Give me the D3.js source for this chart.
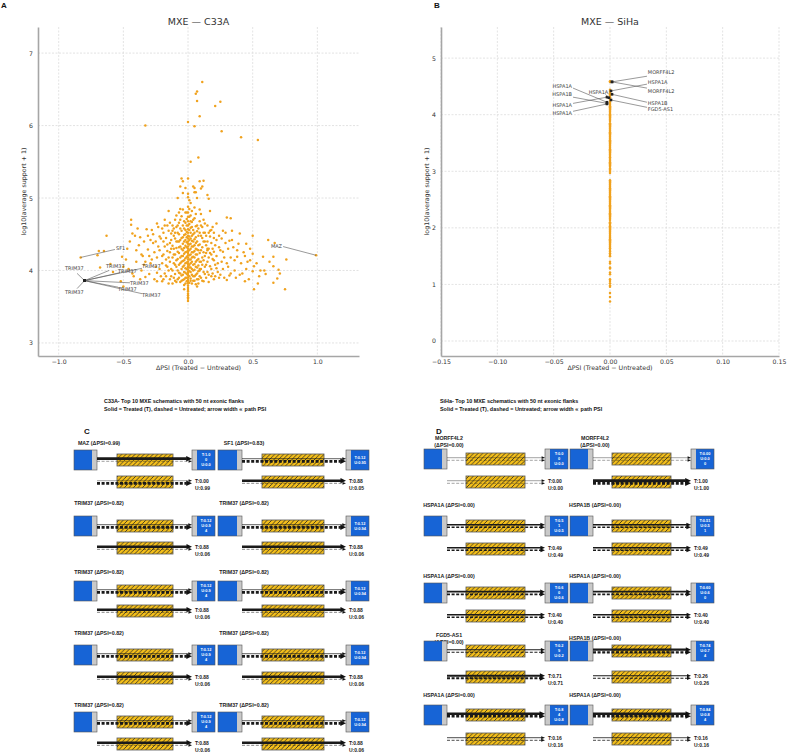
<!DOCTYPE html>
<html><head><meta charset="utf-8">
<script src="https://cdn.jsdelivr.net/npm/d3@7"></script>
<style>body{margin:0;background:#fff}svg{display:block}</style>
</head><body>
<svg id="fig" width="787" height="752"></svg>
<script>
// ---------------- DATA ----------------
const c33aXTicks = [-1.0, -0.5, 0.0, 0.5, 1.0];
const c33aYTicks = [3, 4, 5, 6, 7];
const sihaXTicks = [-0.15, -0.10, -0.05, 0.00, 0.05, 0.10, 0.15];
const sihaYTicks = [0, 1, 2, 3, 4, 5];

// C33A: [ΔPSI, log10(average support + 1)]
const c33aPoints = [
[0.11,6.60],[0.07,6.47],[0.06,6.44],[0.07,6.34],[0.21,6.27],[0.25,6.33],[0.09,6.13],[-0.33,6.00],[0.00,6.05],[0.05,5.99],
[0.26,5.92],[0.41,5.84],[0.54,5.80],[0.08,5.56],[0.02,5.50],[-0.05,5.27],[0.00,5.27],[-0.06,5.16],[0.04,5.16],[0.11,5.16],
[0.10,5.13],[-0.04,5.07],[0.00,5.06],[0.05,5.08],[0.06,5.08],[0.15,5.04],[-0.08,5.00],[0.00,5.01],[0.07,5.00],[0.16,4.99],
[-0.04,5.23],[0.09,5.23],[0.12,5.24],[-0.02,5.14],[0.05,5.14],[0.01,4.97],[0.02,4.93],[0.05,4.87],
[-0.83,4.18],[-0.63,4.48],[-0.69,4.27],[-0.65,4.27],[-0.70,4.21],[-0.80,3.86],[-0.68,4.04],[-0.60,4.09],[-0.58,3.98],[-0.52,3.85],
[-0.50,3.78],[-0.50,4.05],[-0.51,4.19],[-0.47,4.30],[-0.44,4.70],[-0.44,4.63],[-0.43,4.51],[-0.41,4.48],[-0.40,4.12],[-0.36,4.00],
[-0.33,3.91],[-0.32,4.57],[-0.28,4.56],[-0.24,4.65],[-0.22,4.47],[-0.27,4.38],[-0.31,4.29],[-0.35,4.20],[-0.28,4.15],[-0.24,3.97],
[-0.24,3.85],[-0.19,3.88],[-0.17,4.07],[-0.18,4.70],[-0.15,4.82],[-0.13,4.51],
[0.99,4.21],[0.62,4.42],[0.67,4.38],[0.76,4.15],[0.75,3.74],[0.69,3.89],[0.66,3.83],[0.51,3.74],[0.54,3.82],[0.59,4.00],
[0.56,4.00],[0.50,3.99],[0.51,4.06],[0.44,3.85],[0.58,4.19],[0.66,4.19],[0.66,4.06],[0.70,4.01],[0.50,4.48],[0.50,4.23],
[0.45,4.37],[0.40,4.51],[0.39,4.37],
[0.09,4.84],[0.17,4.82],[0.22,4.65],[0.30,4.73],[0.33,4.72],[0.27,4.55],[0.32,4.41],[0.35,4.32],[0.38,4.19],[0.22,4.03],
[0.25,3.94],[0.20,3.88],[0.12,3.85],[0.07,3.78],[-0.03,3.74],[0.09,4.00],[0.15,4.28],[0.20,4.14],[0.24,4.32],[0.32,3.93],
[0.37,3.90],[0.30,3.87],
[-0.46,4.02],[-0.42,3.92],[-0.38,4.35],[-0.37,4.46],[-0.34,4.08],[-0.30,3.95],[-0.29,4.42],[-0.26,4.25],[-0.25,4.05],[-0.23,4.33],
[-0.21,3.92],[-0.20,4.58],[-0.20,4.20],[-0.19,4.40],[-0.18,3.96],[-0.16,4.27],[-0.16,4.62],[-0.15,3.82],[-0.14,4.12],[-0.14,4.38],
[-0.12,4.00],[-0.12,4.55],[-0.11,4.22],[-0.11,3.90],[-0.10,4.44],[-0.10,4.70],
[0.10,4.62],[0.11,4.18],[0.12,4.40],[0.13,3.95],[0.13,4.52],[0.14,4.08],[0.15,4.30],[0.16,3.84],[0.17,4.47],[0.18,4.02],
[0.18,4.22],[0.19,4.60],[0.21,4.35],[0.23,3.98],[0.24,4.48],[0.26,4.12],[0.27,4.26],[0.28,3.90],[0.29,4.38],[0.31,4.05],
[0.33,4.18],[0.34,4.55],[0.36,4.00],[0.41,4.10],[0.42,3.96],[0.43,4.25],[0.46,4.12],[0.47,3.88],[0.48,4.30],[0.53,4.10],
[0.55,3.92],[0.60,3.95],[0.63,4.12],[0.71,3.96],
[-0.09,4.05],[-0.09,4.31],[-0.08,3.88],[-0.08,4.16],[-0.08,4.52],[-0.07,3.97],[-0.07,4.24],[-0.07,4.40],[-0.07,4.66],[-0.06,3.84],
[-0.06,4.10],[-0.06,4.33],[-0.06,4.58],[-0.05,3.93],[-0.05,4.02],[-0.05,4.20],[-0.05,4.45],[-0.05,4.75],[-0.04,3.87],[-0.04,4.13],
[-0.04,4.28],[-0.04,4.37],[-0.04,4.62],[-0.03,3.80],[-0.03,3.98],[-0.03,4.07],[-0.03,4.23],[-0.03,4.49],[-0.03,4.68],[-0.02,3.90],
[-0.02,4.03],[-0.02,4.17],[-0.02,4.34],[-0.02,4.42],[-0.02,4.56],[-0.02,4.80],[-0.01,3.85],[-0.01,3.95],[-0.01,4.11],[-0.01,4.26],
[-0.01,4.39],[-0.01,4.53],[-0.01,4.71],
[0.01,3.83],[0.01,3.99],[0.01,4.08],[0.01,4.21],[0.01,4.36],[0.01,4.47],[0.01,4.64],[0.01,4.85],[0.02,3.89],[0.02,4.04],
[0.02,4.15],[0.02,4.30],[0.02,4.44],[0.02,4.59],[0.02,4.76],[0.03,3.94],[0.03,4.12],[0.03,4.25],[0.03,4.41],[0.03,4.67],
[0.04,3.86],[0.04,4.00],[0.04,4.19],[0.04,4.33],[0.04,4.50],[0.05,3.92],[0.05,4.09],[0.05,4.27],[0.05,4.43],[0.05,4.72],
[0.06,3.81],[0.06,4.05],[0.06,4.22],[0.06,4.38],[0.06,4.61],[0.07,3.96],[0.07,4.14],[0.07,4.29],[0.07,4.54],[0.08,3.88],
[0.08,4.07],[0.08,4.35],[0.08,4.48],[0.09,4.02],[0.09,4.24],[0.09,4.68],
[0,3.58],[0,3.61],[0,3.63],[0,3.66],[0,3.68],[0,3.71],[0,3.73],[0,3.76],[0,3.79],[0,3.82],
[0,3.84],[0,3.87],[0,3.90],[0,3.93],[0,3.95],[0,3.98],[0,4.01],[0,4.04],[0,4.06],[0,4.09],
[0,4.12],[0,4.15],[0,4.18],[0,4.21],[0,4.24],[0,4.27],[0,4.30],[0,4.33],[0,4.37],[0,4.40],
[0,4.44],[0,4.48],[0,4.52],[0,4.57],[0,4.62],[0,4.68],[0,4.74],[0,4.80],[0,4.88],
[-0.17,4.15],[-0.15,4.00],[-0.13,4.30],[-0.13,3.92],[-0.12,4.18],[-0.11,4.48],[-0.10,4.08],[-0.10,3.86],[-0.09,4.60],[-0.08,4.40],
[-0.06,4.85],[0.10,4.12],[0.10,3.90],[0.11,4.45],[0.12,4.25],[0.12,4.70],[0.13,4.05],[0.14,4.35],[0.15,3.98],[0.16,4.18],
[0.17,4.55],[0.18,3.92],[0.19,4.30],[0.20,4.45],[0.21,4.08],
[-0.29,4.10],[-0.27,4.50],[-0.26,3.88],[-0.25,4.40],[-0.24,4.18],[-0.23,4.60],[-0.22,4.02],[-0.22,4.28],[-0.21,4.44],[-0.20,3.85],
[-0.20,4.10],[-0.19,4.52],[-0.19,4.22],[-0.18,4.33],[-0.18,4.62],[-0.17,3.92],[-0.17,4.45],[-0.16,4.05],[-0.16,4.36],[-0.15,4.18],
[-0.15,4.55],[-0.14,3.88],[-0.14,4.25],[-0.14,4.66],[-0.13,4.02],[-0.13,4.42],[-0.12,3.82],[-0.12,4.34],[-0.12,4.62],[-0.11,4.10],
[-0.11,4.30],[-0.11,4.58],[-0.10,3.95],[-0.10,4.22],[-0.10,4.52],[-0.09,3.84],[-0.09,4.14],[-0.09,4.40],[-0.09,4.76],[-0.08,4.00],
[-0.08,4.26],[-0.08,4.62],[-0.07,3.90],[-0.07,4.08],[-0.07,4.32],[-0.07,4.50],[-0.07,4.80],[-0.06,3.96],[-0.06,4.18],[-0.06,4.42],
[-0.06,4.70],[-0.05,3.86],[-0.05,4.12],[-0.05,4.30],[-0.05,4.55],[-0.04,3.94],[-0.04,4.05],[-0.04,4.20],[-0.04,4.46],[-0.04,4.84],
[-0.03,3.88],[-0.03,4.14],[-0.03,4.31],[-0.03,4.40],[-0.03,4.58],[-0.02,3.82],[-0.02,3.97],[-0.02,4.10],[-0.02,4.25],[-0.02,4.50],
[-0.02,4.66],[-0.01,3.90],[-0.01,4.02],[-0.01,4.19],[-0.01,4.32],[-0.01,4.46],[-0.01,4.62],[-0.01,4.80],
[0.01,3.92],[0.01,4.04],[0.01,4.15],[0.01,4.28],[0.01,4.42],[0.01,4.56],[0.01,4.74],[0.02,3.86],[0.02,3.98],[0.02,4.10],
[0.02,4.22],[0.02,4.37],[0.02,4.52],[0.02,4.68],[0.03,3.82],[0.03,4.02],[0.03,4.18],[0.03,4.33],[0.03,4.48],[0.03,4.60],
[0.03,4.82],[0.04,3.92],[0.04,4.08],[0.04,4.25],[0.04,4.40],[0.04,4.56],[0.04,4.70],[0.05,3.86],[0.05,4.01],[0.05,4.18],
[0.05,4.35],[0.05,4.52],[0.06,3.94],[0.06,4.12],[0.06,4.30],[0.06,4.46],[0.06,4.78],[0.07,3.88],[0.07,4.04],[0.07,4.22],
[0.07,4.40],[0.07,4.62],[0.08,3.82],[0.08,3.99],[0.08,4.16],[0.08,4.28],[0.08,4.58],[0.09,3.92],[0.09,4.12],[0.09,4.36],
[0.09,4.52],[0.10,4.02],[0.10,4.28],[0.10,4.48],[0.10,4.78],[0.11,3.86],[0.11,4.08],[0.11,4.32],[0.11,4.60],[0.12,3.98],
[0.12,4.14],[0.12,4.52],[0.13,4.20],[0.13,4.40],[0.13,4.65],[0.14,3.90],[0.14,4.24],[0.14,4.48],[0.15,4.12],[0.15,4.40],
[0.15,4.62],[0.16,3.94],[0.16,4.30],[0.16,4.52],[0.17,4.06],[0.17,4.24],[0.18,4.38],[0.18,4.56],[0.19,3.96],[0.19,4.16],
[0.20,4.26],[0.20,4.52],[0.21,3.92],[0.22,4.20],[0.22,4.42],[0.23,4.10],[0.24,3.90],[0.25,4.28],[0.26,4.44],[0.27,4.02],
[0.28,4.18],[0.29,4.52],[0.30,4.10],[0.31,4.30],[0.33,3.96],[0.34,4.42],[0.36,4.14],[0.38,4.28],[0.40,3.94],[0.44,4.20],
[0.45,4.02],[0.48,4.14],
[-0.48,4.15],[-0.45,4.40],[-0.43,3.96],[-0.40,4.28],[-0.39,4.58],[-0.37,3.88],[-0.36,4.22],[-0.34,4.40],[-0.33,4.12],[-0.31,4.48],
[-0.30,4.20]
];

// SiHa: every event has ΔPSI = 0.00; log10(average support + 1) values
const sihaSupport = [
4.59,4.58,4.44,4.42,4.40,4.38,4.36,4.34,4.31,4.28,4.26,4.23,4.21,4.19,4.17,4.15,4.13,4.11,4.09,4.07,
4.05,4.03,4.01,3.99,3.97,3.95,3.93,3.91,3.89,3.85,3.83,3.81,3.79,3.77,3.75,3.73,3.71,3.69,3.67,3.65,
3.63,3.61,3.59,3.57,3.55,3.53,3.51,3.49,3.47,3.45,3.43,3.41,3.39,3.37,3.35,3.33,3.31,3.29,3.27,3.25,
3.22,3.20,3.18,3.16,3.14,3.12,3.10,3.08,3.05,3.03,3.01,2.99,2.97,2.84,2.82,2.80,2.78,2.76,2.74,2.72,
2.70,2.68,2.66,2.64,2.62,2.60,2.58,2.56,2.54,2.52,2.50,2.48,2.46,2.44,2.42,2.40,2.38,2.36,2.34,2.32,
2.30,2.28,2.26,2.24,2.22,2.20,2.18,2.16,2.14,2.10,2.08,2.05,2.03,2.01,1.99,1.97,1.95,1.93,1.91,1.89,
1.86,1.84,1.82,1.80,1.78,1.76,1.74,1.72,1.70,1.68,1.66,1.64,1.61,1.58,1.55,1.52,1.50,1.40,1.37,1.30,
1.28,1.21,1.18,1.09,1.06,1.02,0.98,0.96,0.85,0.78,0.70
];
const sihaDeltaPSI = 0.00;

// labelled events: [name, ΔPSI, support]
const c33aLabelled = [
["SF1",-0.83,4.18],["MAZ",0.99,4.21],
["TRIM37",-0.80,3.86],["TRIM37",-0.80,3.86],["TRIM37",-0.80,3.86],["TRIM37",-0.80,3.86],
["TRIM37",-0.80,3.86],["TRIM37",-0.80,3.86],["TRIM37",-0.80,3.86],["TRIM37",-0.80,3.86]
];
const sihaLabelled = [
["MORFF4L2",0.0018,4.58],["HSPA1A",0.0009,4.42],["MORFF4L2",0.0018,4.58],["HSPA1B",0.0018,4.36],["FGD5-AS1",0.0009,4.26],
["HSPA1A",-0.0027,4.22],["HSPA1B",-0.0027,4.20],["HSPA1A",-0.0027,4.31],["HSPA1A",-0.0027,4.19],["HSPA1A",-0.0010,4.30]
];

// schematic panels (order: row by row, left then right)
const c33aGenes = ["MAZ","SF1","TRIM37","TRIM37","TRIM37","TRIM37","TRIM37","TRIM37","TRIM37","TRIM37"];
const c33aDeltaPSI = [0.99,0.83,0.82,0.82,0.82,0.82,0.82,0.82,0.82,0.82];
const c33aTopT = [1.00,0.12,0.12,0.12,0.12,0.12,0.12,0.12,0.12,0.12];
const c33aTopU = [0.01,0.95,0.94,0.94,0.94,0.94,0.94,0.94,0.94,0.94];
const c33aBottomT = [0.00,0.88,0.88,0.88,0.88,0.88,0.88,0.88,0.88,0.88];
const c33aBottomU = [0.99,0.05,0.06,0.06,0.06,0.06,0.06,0.06,0.06,0.06];
const c33aBoxText = [["T:1.0","0","U:0.0"],["T:0.12","U:0.95"],["T:0.12","U:0.9","4"],["T:0.12","U:0.94"],
["T:0.12","U:0.9","4"],["T:0.12","U:0.94"],["T:0.12","U:0.9","4"],["T:0.12","U:0.94"],["T:0.12","U:0.9","4"],["T:0.12","U:0.94"]];

const sihaGenes = ["MORFF4L2","MORFF4L2","HSPA1A","HSPA1B","HSPA1A","HSPA1A","FGD5-AS1","HSPA1B","HSPA1A","HSPA1A"];
const sihaDeltaPSIs = [0.00,0.00,0.00,0.00,0.00,0.00,0.00,0.00,0.00,0.00];
const sihaTopT = [0.00,0.00,0.51,0.51,0.60,0.60,0.29,0.74,0.84,0.84];
const sihaTopU = [0.00,0.00,0.51,0.51,0.60,0.60,0.29,0.74,0.84,0.84];
const sihaBottomT = [0.00,1.00,0.49,0.49,0.40,0.40,0.71,0.26,0.16,0.16];
const sihaBottomU = [0.00,1.00,0.49,0.49,0.40,0.40,0.71,0.26,0.16,0.16];
const sihaBoxText = [["T:0.0","0","U:0.0"],["T:0.00","U:0.0","0"],["T:0.5","1","U:0.5"],["T:0.51","U:0.5","1"],
["T:0.6","0","U:0.6"],["T:0.60","U:0.6","0"],["T:0.2","9","U:0.2"],["T:0.74","U:0.7","4"],["T:0.8","4","U:0.8"],["T:0.84","U:0.8","4"]];

// ---------------- LAYOUT / STYLE ----------------
const FONT = "'DejaVu Sans', sans-serif";
const BOLD = "'Liberation Sans', Arial, sans-serif";
const ORANGE = "#f0a21e", BLUE = "#1764d6", GOLD = "#f4bf1a", STRIP = "#c9c9c9";
const svg = d3.select("#fig");
svg.append("rect").attr("width",787).attr("height",752).attr("fill","#fff");

const defs = svg.append("defs");
const pat = defs.append("pattern").attr("id","hatch").attr("patternUnits","userSpaceOnUse")
  .attr("width",4.5).attr("height",4.5);
pat.append("rect").attr("width",4.5).attr("height",4.5).attr("fill",GOLD);
pat.append("path").attr("d","M-1,1 L1,-1 M0,4.5 L4.5,0 M3.5,5.5 L5.5,3.5").attr("stroke","#222").attr("stroke-width",0.8);

function drawScatter(o){
  const g = svg.append("g");
  const x = d3.scaleLinear().domain(o.xDom).range([o.left,o.right]);
  const y = d3.scaleLinear().domain(o.yDom).range([o.bottom,o.top]);
  g.selectAll(".vg").data(o.xTicks).join("line")
    .attr("x1",d=>x(d)).attr("x2",d=>x(d)).attr("y1",o.top).attr("y2",o.bottom)
    .attr("stroke","#dcdcdc").attr("stroke-width",0.8).attr("stroke-dasharray","2,1.5");
  g.selectAll(".hg").data(o.yTicks).join("line")
    .attr("x1",o.left).attr("x2",o.right).attr("y1",d=>y(d)).attr("y2",d=>y(d))
    .attr("stroke","#dcdcdc").attr("stroke-width",0.8).attr("stroke-dasharray","2,1.5");
  const ax = g.append("g").attr("transform",`translate(0,${o.bottom})`)
    .call(d3.axisBottom(x).tickValues(o.xTicks).tickFormat(d3.format(o.xFmt)).tickSize(0).tickSizeOuter(0).tickPadding(4));
  const ay = g.append("g").attr("transform",`translate(${o.left},0)`)
    .call(d3.axisLeft(y).tickValues(o.yTicks).tickFormat(d3.format("d")).tickSize(0).tickSizeOuter(0).tickPadding(5));
  [ax,ay].forEach(a=>{
    a.select(".domain").attr("stroke","#a6a6a6").attr("stroke-width",1.6);
    a.selectAll("text").attr("font-family",FONT).attr("font-size",6.2).attr("fill","#333");
  });
  g.append("g").selectAll("circle").data(o.points).join("circle")
    .attr("cx",d=>x(d[0])).attr("cy",d=>y(d[1])).attr("r",1.25).attr("fill",ORANGE);
  o.labels.forEach((d,i)=>{
    const L = o.labelLayout[i];
    const px = x(d[1]), py = y(d[2]);
    g.append("line").attr("x1",x(L.lx)).attr("y1",y(L.ly)).attr("x2",px).attr("y2",py)
      .attr("stroke","#555").attr("stroke-width",0.6);
    g.append("text").attr("x",x(L.tx)).attr("y",y(L.ty)).attr("dy","0.35em")
      .attr("text-anchor",L.anchor).attr("font-family",FONT).attr("font-size",5).attr("fill","#444").text(d[0]);
    if (L.dark) g.append("rect").attr("x",px-1.3).attr("y",py-1.3).attr("width",2.6).attr("height",2.6).attr("fill","#222");
  });
  g.append("text").attr("x",(o.left+o.right)/2).attr("y",25).attr("text-anchor","middle")
    .attr("font-family",FONT).attr("font-size",9.5).attr("fill","#333").text(o.title);
  g.append("text").attr("x",(o.left+o.right)/2).attr("y",370).attr("text-anchor","middle")
    .attr("font-family",FONT).attr("font-size",6.3).attr("fill","#333").text("ΔPSI (Treated − Untreated)");
  g.append("text").attr("transform",`translate(${o.left-12},${(o.top+o.bottom)/2}) rotate(-90)`).attr("text-anchor","middle")
    .attr("font-family",FONT).attr("font-size",6.3).attr("fill","#333").text("log10(average support + 1)");
  svg.append("text").attr("x",o.letterX).attr("y",8).attr("font-family",BOLD).attr("font-weight","bold")
    .attr("font-size",8).attr("fill","#111").text(o.letter);
}

drawScatter({
  xDom:[-1.16,1.322], yDom:[2.82,7.36], left:38, right:359, top:27, bottom:356,
  xTicks:c33aXTicks, yTicks:c33aYTicks, xFmt:".1f", points:c33aPoints, title:"MXE — C33A",
  letter:"A", letterX:1,
  labels:c33aLabelled,
  labelLayout:[
    {tx:-0.557,ty:4.30,lx:-0.565,ly:4.29,anchor:"start"},
    {tx:0.727,ty:4.34,lx:0.735,ly:4.33,anchor:"end"},
    {tx:-0.951,ty:4.03,lx:-0.858,ly:3.96,anchor:"start",dark:true},
    {tx:-0.951,ty:3.70,lx:-0.858,ly:3.75,anchor:"start",dark:true},
    {tx:-0.634,ty:4.06,lx:-0.611,ly:4.00,anchor:"start",dark:true},
    {tx:-0.541,ty:3.99,lx:-0.526,ly:3.97,anchor:"start",dark:true},
    {tx:-0.356,ty:4.06,lx:-0.356,ly:4.03,anchor:"start",dark:true},
    {tx:-0.449,ty:3.83,lx:-0.449,ly:3.83,anchor:"start",dark:true},
    {tx:-0.541,ty:3.74,lx:-0.541,ly:3.77,anchor:"start",dark:true},
    {tx:-0.356,ty:3.66,lx:-0.356,ly:3.68,anchor:"start",dark:true}
  ]
});

drawScatter({
  xDom:[-0.15,0.15], yDom:[-0.265,5.55], left:441, right:779, top:27, bottom:356,
  xTicks:sihaXTicks, yTicks:sihaYTicks, xFmt:".2f", points:sihaSupport.map(v=>[sihaDeltaPSI,v]), title:"MXE — SiHa",
  letter:"B", letterX:434,
  labels:sihaLabelled,
  labelLayout:[
    {tx:0.0336,ty:4.75,lx:0.0328,ly:4.68,anchor:"start",dark:true},
    {tx:0.0336,ty:4.58,lx:0.0328,ly:4.54,anchor:"start",dark:true},
    {tx:0.0336,ty:4.42,lx:0.0328,ly:4.47,anchor:"start",dark:true},
    {tx:0.0336,ty:4.20,lx:0.0328,ly:4.22,anchor:"start",dark:true},
    {tx:0.0336,ty:4.10,lx:0.0328,ly:4.13,anchor:"start",dark:true},
    {tx:-0.0337,ty:4.51,lx:-0.0328,ly:4.47,anchor:"end",dark:true},
    {tx:-0.0337,ty:4.36,lx:-0.0328,ly:4.31,anchor:"end",dark:true},
    {tx:-0.0337,ty:4.17,lx:-0.0328,ly:4.20,anchor:"end",dark:true},
    {tx:-0.0337,ty:4.03,lx:-0.0328,ly:4.06,anchor:"end",dark:true},
    {tx:-0.0015,ty:4.40,lx:-0.0040,ly:4.36,anchor:"end",dark:true}
  ]
});

// ---------------- SCHEMATICS ----------------
function track(g, xs, xe, yc, psiT, psiU){
  const lines = [{psi:psiT, dy:-1.3, dash:null},{psi:psiU, dy:1.3, dash:"3,1.6"}];
  lines.forEach(l=>{
    const w = 0.4 + 2.4*l.psi, ah = 2.2 + 1.2*w, al = 3 + w;
    const yy = yc + l.dy;
    const ln = g.append("line").attr("x1",xs).attr("x2",xe-al+0.5).attr("y1",yy).attr("y2",yy)
      .attr("stroke","#1a1a1a").attr("stroke-width",w);
    if (l.dash) ln.attr("stroke-dasharray",l.dash);
    g.append("path").attr("d",`M${xe-al},${yy-ah/2} L${xe},${yy} L${xe-al},${yy+ah/2} Z`).attr("fill","#111");
  });
}

function schematic(g, c, r, gene, dpsi, topT, topU, botT, botU, boxText){
  const title = `${gene} (ΔPSI=${dpsi.toFixed(2)})`;
  const tx = c.ur + 2;
  const tt = g.append("text").attr("text-anchor","middle").attr("font-family",BOLD).attr("font-weight","bold")
    .attr("font-size",5.3).attr("fill","#222");
  if (gene.length >= 8){
    tt.append("tspan").attr("x",tx).attr("y",r.title-1.5).text(gene);
    tt.append("tspan").attr("x",tx).attr("y",r.title+5.5).text(`(ΔPSI=${dpsi.toFixed(2)})`);
  } else {
    tt.append("tspan").attr("x",tx).attr("y",r.title+2).text(title);
  }
  const bh = 20, yh = 12;
  g.append("rect").attr("x",c.ul).attr("y",r.top-bh/2).attr("width",c.ur-c.ul-5).attr("height",bh).attr("fill",BLUE);
  g.append("rect").attr("x",c.ur-5).attr("y",r.top-bh/2).attr("width",5).attr("height",bh).attr("fill",STRIP);
  g.append("rect").attr("x",c.ul).attr("y",r.top-bh/2).attr("width",c.ur-c.ul).attr("height",bh)
    .attr("fill","none").attr("stroke","#555").attr("stroke-width",0.6);
  g.append("rect").attr("x",c.dl).attr("y",r.top-bh/2).attr("width",5).attr("height",bh).attr("fill",STRIP);
  g.append("rect").attr("x",c.dl+5).attr("y",r.top-bh/2).attr("width",c.dr-c.dl-5).attr("height",bh).attr("fill",BLUE);
  g.append("rect").attr("x",c.dl).attr("y",r.top-bh/2).attr("width",c.dr-c.dl).attr("height",bh)
    .attr("fill","none").attr("stroke","#555").attr("stroke-width",0.6);
  const bx = (c.dl+5+c.dr)/2, n = boxText.length;
  boxText.forEach((s,i)=>{
    g.append("text").attr("x",bx).attr("y",r.top + (i-(n-1)/2)*5 + 1.4).attr("text-anchor","middle")
      .attr("font-family",BOLD).attr("font-weight","bold").attr("font-size",3.9).attr("fill","#fff").text(s);
  });
  [r.top, r.bot].forEach(yc=>{
    g.append("rect").attr("x",c.yl).attr("y",yc-yh/2).attr("width",c.yr-c.yl).attr("height",yh)
      .attr("fill","url(#hatch)").attr("stroke","#555").attr("stroke-width",0.8);
  });
  track(g, c.ur, c.dl, r.top, topT, topU);
  track(g, c.ur, c.dl, r.bot, botT, botU);
  g.append("text").attr("x",c.dl+3).attr("y",r.bot+1).attr("font-family",BOLD).attr("font-weight","bold")
    .attr("font-size",5).attr("fill","#222").text(`T:${botT.toFixed(2)}`);
  g.append("text").attr("x",c.dl+3).attr("y",r.bot+7.5).attr("font-family",BOLD).attr("font-weight","bold")
    .attr("font-size",5).attr("fill","#222").text(`U:${botU.toFixed(2)}`);
}

function schematicPanel(o){
  const g = svg.append("g");
  g.append("text").attr("x",o.headX).attr("y",403).attr("font-family",BOLD).attr("font-weight","bold")
    .attr("font-size",5.4).attr("fill","#111").text(o.head1);
  g.append("text").attr("x",o.headX).attr("y",411).attr("font-family",BOLD).attr("font-weight","bold")
    .attr("font-size",5.4).attr("fill","#111").text("Solid = Treated (T), dashed = Untreated; arrow width ∝  path PSI");
  g.append("text").attr("x",o.letterX).attr("y",434).attr("font-family",BOLD).attr("font-weight","bold")
    .attr("font-size",8).attr("fill","#111").text(o.letter);
  o.genes.forEach((gene,i)=>{
    const c = o.cols[i%2], r = o.rows[Math.floor(i/2)];
    schematic(g, c, r, gene, o.dpsi[i], o.topT[i], o.topU[i], o.botT[i], o.botU[i], o.box[i]);
  });
}

schematicPanel({
  headX:104, head1:"C33A- Top 10 MXE schematics with 50 nt exonic flanks", letter:"C", letterX:84,
  genes:c33aGenes, dpsi:c33aDeltaPSI, topT:c33aTopT, topU:c33aTopU, botT:c33aBottomT, botU:c33aBottomU, box:c33aBoxText,
  cols:[{ul:74,ur:97,yl:117,yr:173,dl:192,dr:215},{ul:218,ur:242,yl:262,yr:324,dl:346,dr:369}],
  rows:[{title:443,top:460,bot:482},{title:503,top:526,bot:548},{title:572,top:591,bot:611},{title:633,top:655,bot:678},{title:705,top:722,bot:744}]
});

schematicPanel({
  headX:440, head1:"SiHa- Top 10 MXE schematics with 50 nt exonic flanks", letter:"D", letterX:436,
  genes:sihaGenes, dpsi:sihaDeltaPSIs, topT:sihaTopT, topU:sihaTopU, botT:sihaBottomT, botU:sihaBottomU, box:sihaBoxText,
  cols:[{ul:424,ur:447,yl:466,yr:525,dl:545,dr:568},{ul:570,ur:593,yl:612,yr:671,dl:691,dr:714}],
  rows:[{title:441,top:459,bot:482},{title:505,top:526,bot:549},{title:576,top:593,bot:616},{title:638,top:651,bot:677},{title:695,top:715,bot:739}]
});
</script>
</body></html>
